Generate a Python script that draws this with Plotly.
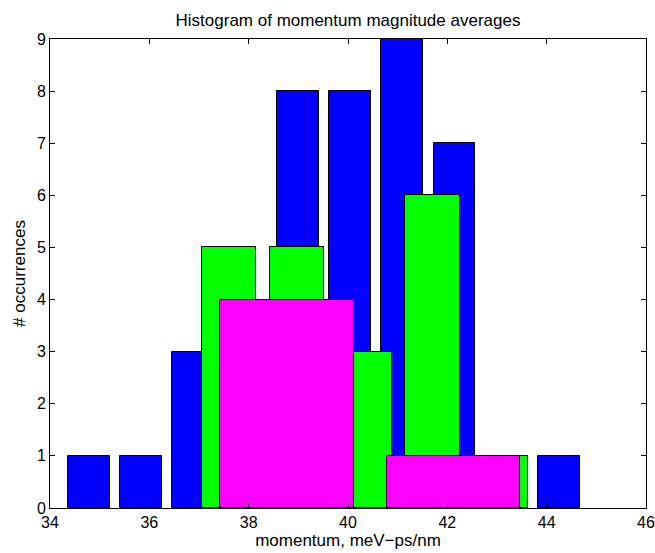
import plotly.graph_objects as go

# Bin centres (momentum, meV-ps/nm) and counts for each histogram
blue_centers = [34.777, 35.830, 36.882, 37.935, 38.987, 40.040, 41.093, 42.145, 43.198, 44.250]
blue_counts = [1, 1, 3, 2, 8, 8, 9, 7, 0, 1]

green_centers = [37.606, 38.972, 40.338, 41.704, 43.071]
green_counts = [5, 5, 3, 6, 1]

magenta_centers = [38.772, 42.128]
magenta_counts = [4, 1]

title_text = "Histogram of momentum magnitude averages"
x_label = "momentum, meV\u2212ps/nm"
y_label = "# occurrences"

x_ticks = [34, 36, 38, 40, 42, 44, 46]
y_ticks = list(range(0, 10))

font_family = "Liberation Sans, Arial, Helvetica, sans-serif"
fs_text = 17
fs_tick = 16

W, H = 655, 553
ML, MR, MT, MB = 50, 9, 39, 45


def bar_trace(centers, counts, color):
    bw = 0.8 * (centers[1] - centers[0])
    return go.Bar(
        x=centers, y=counts, width=bw,
        marker=dict(color=color, line=dict(color="black", width=1)),
        showlegend=False, hoverinfo="x+y",
    )


fig = go.Figure()
fig.add_trace(bar_trace(blue_centers, blue_counts, "#0000FF"))
fig.add_trace(bar_trace(green_centers, green_counts, "#00FF00"))
fig.add_trace(bar_trace(magenta_centers, magenta_counts, "#FF00FF"))

axis_common = dict(
    showgrid=False, zeroline=False, showline=True, linecolor="black", linewidth=1,
    mirror="ticks", ticks="inside", ticklen=5, tickcolor="black",
    tickfont=dict(family=font_family, size=fs_tick, color="black"),
    automargin=False,
)

fig.update_layout(
    width=W, height=H,
    margin=dict(l=ML, r=MR, t=MT, b=MB, autoexpand=False),
    paper_bgcolor="white", plot_bgcolor="white",
    barmode="overlay",
    bargap=0,
    font=dict(family=font_family, size=fs_text, color="black"),
    title=dict(text=title_text, x=(ML + (W - ML - MR) / 2) / W, xanchor="center",
               y=1 - 20 / H, yanchor="middle",
               font=dict(family=font_family, size=fs_text, color="black")),
    xaxis=dict(range=[34, 46], tickvals=x_ticks, ticktext=[str(v) for v in x_ticks],
               title=dict(text=x_label, standoff=0,
                          font=dict(family=font_family, size=fs_text, color="black")),
               **axis_common),
    yaxis=dict(range=[0, 9], tickvals=y_ticks, ticktext=[str(v) for v in y_ticks],
               title=dict(text=y_label, standoff=6,
                          font=dict(family=font_family, size=fs_text, color="black")),
               **axis_common),
)

fig.write_html("out.html",
               config={"displayModeBar": False},
               post_script="document.body.style.margin='0';document.body.style.padding='0';")
